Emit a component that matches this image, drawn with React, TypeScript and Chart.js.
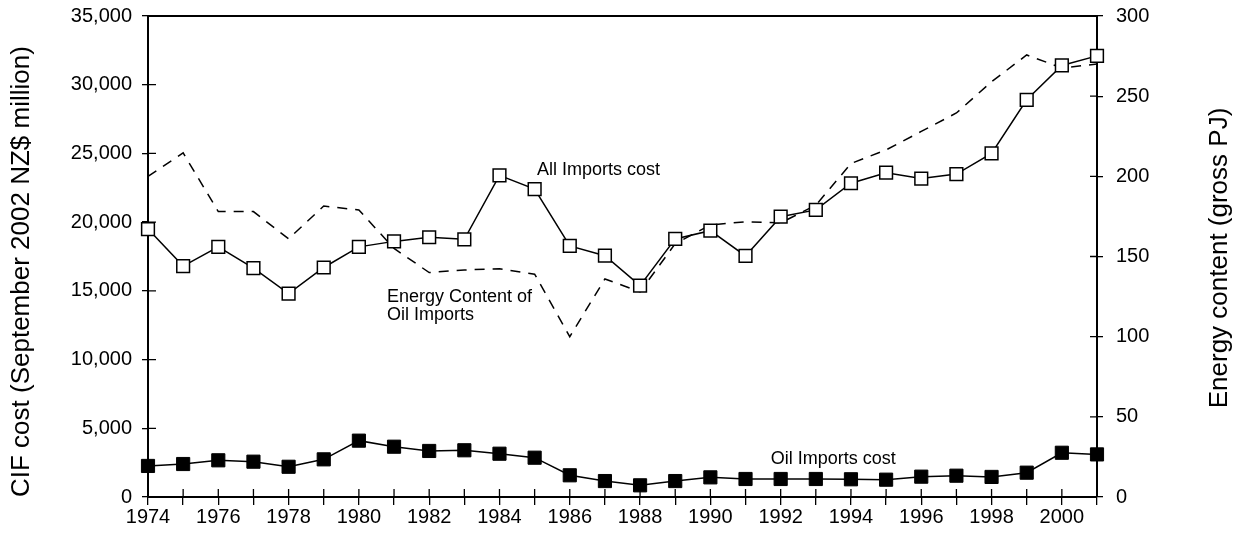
import React, { useEffect, useRef } from "react";
import { Chart, registerables } from "chart.js";

Chart.register(...registerables);

const years = [
  1974, 1975, 1976, 1977, 1978, 1979, 1980, 1981, 1982, 1983, 1984, 1985, 1986, 1987,
  1988, 1989, 1990, 1991, 1992, 1993, 1994, 1995, 1996, 1997, 1998, 1999, 2000, 2001,
];

const allImportsCost = [
  19500, 16800, 18200, 16650, 14800, 16700, 18200, 18600, 18900, 18750, 23400, 22400, 18270, 17560,
  15380, 18780, 19380, 17540, 20400, 20890, 22830, 23600, 23170, 23500, 25000, 28900, 31400, 32100,
];

const oilImportsCost = [
  2260, 2400, 2670, 2570, 2200, 2740, 4100, 3660, 3350, 3400, 3150, 2860, 1580, 1160,
  850, 1160, 1430, 1310, 1310, 1310, 1290, 1260, 1480, 1550, 1460, 1770, 3220, 3100,
];

const energyContent = [
  200, 214.6, 178, 178, 161, 181.5, 179, 155, 140, 141.6, 142.4, 139, 100, 136,
  128, 158, 169.7, 171.7, 171, 182, 208, 216.5, 228, 239.5, 259, 275.7, 267.6, 270,
];

const leftTicks = { min: 0, max: 35000, step: 5000 };
const rightTicks = { min: 0, max: 300, step: 50 };

const leftTitle = "CIF cost (September 2002 NZ$ million)";
const rightTitle = "Energy content (gross PJ)";

const labelAll = { text: ["All Imports cost"], x: 1985.07, y: 23800 };
const labelEnergy = { text: ["Energy Content of", "Oil Imports"], x: 1980.8, y: 14560 };
const labelOil = { text: ["Oil Imports cost"], x: 1991.72, y: 2770 };

const FONT = "'Liberation Sans', Arial, Helvetica, sans-serif";

const framePlugin = {
  id: "frame",
  beforeDatasetsDraw(chart: any) {
    const { ctx, chartArea, scales } = chart;
    ctx.save();
    ctx.strokeStyle = "#000";
    ctx.lineWidth = 2;
    ctx.beginPath();
    ctx.moveTo(chartArea.left - 1, chartArea.top);
    ctx.lineTo(chartArea.right + 1, chartArea.top);
    ctx.stroke();
    ctx.lineWidth = 1.3;
    ctx.beginPath();
    for (const t of scales.x.ticks) {
      const px = scales.x.getPixelForValue(t.value);
      ctx.moveTo(px, chartArea.bottom);
      ctx.lineTo(px, chartArea.bottom - 8);
    }
    for (const t of scales.y.ticks) {
      const py = scales.y.getPixelForValue(t.value);
      ctx.moveTo(chartArea.left, py);
      ctx.lineTo(chartArea.left + 8, py);
    }
    for (const t of scales.y1.ticks) {
      const py = scales.y1.getPixelForValue(t.value);
      ctx.moveTo(chartArea.right, py);
      ctx.lineTo(chartArea.right - 7, py);
    }
    ctx.stroke();
    ctx.restore();
  },
  afterDatasetsDraw(chart: any) {
    const { ctx, scales, chartArea } = chart;
    ctx.save();
    ctx.fillStyle = "#000";
    ctx.font = `18px ${FONT}`;
    ctx.textAlign = "left";
    ctx.textBaseline = "middle";
    for (const lab of [labelAll, labelEnergy, labelOil]) {
      const px = scales.x.getPixelForValue(lab.x);
      const py = scales.y.getPixelForValue(lab.y);
      lab.text.forEach((line, i) => ctx.fillText(line, px, py + i * 18));
    }
    // axis titles
    ctx.font = `26px ${FONT}`;
    ctx.textAlign = "start";
    ctx.save();
    ctx.translate(22, chartArea.bottom);
    ctx.rotate(-Math.PI / 2);
    ctx.fillText(leftTitle, 0, 0);
    ctx.restore();
    ctx.save();
    ctx.translate(1220, 258);
    ctx.rotate(-Math.PI / 2);
    ctx.textAlign = "center";
    ctx.fillText(rightTitle, 0, 0);
    ctx.restore();
    ctx.restore();
  },
};

const noPad = (scale: any) => {
  scale.paddingTop = 0;
  scale.paddingBottom = 0;
  scale.paddingLeft = 0;
  scale.paddingRight = 0;
};

export default function App() {
  const ref = useRef<HTMLCanvasElement | null>(null);

  useEffect(() => {
    document.body.style.margin = "0";
    const canvas = ref.current;
    if (!canvas) return;
    const toXY = (vals: number[]) => vals.map((v, i) => ({ x: years[i], y: v }));
    const chart = new Chart(canvas, {
      type: "line",
      data: {
        datasets: [
          {
            label: "Energy Content of Oil Imports",
            data: toXY(energyContent),
            yAxisID: "y1",
            borderColor: "#000",
            borderWidth: 1.5,
            borderDash: [10, 8],
            pointRadius: 0,
            fill: false,
            tension: 0,
            clip: false as any,
            order: 3,
          },
          {
            label: "All Imports cost",
            data: toXY(allImportsCost),
            yAxisID: "y",
            borderColor: "#000",
            borderWidth: 1.5,
            pointStyle: "rect",
            pointRadius: 9,
            pointBorderWidth: 1.5,
            pointBackgroundColor: "#fff",
            pointBorderColor: "#000",
            fill: false,
            tension: 0,
            clip: false as any,
            order: 2,
          },
          {
            label: "Oil Imports cost",
            data: toXY(oilImportsCost),
            yAxisID: "y",
            borderColor: "#000",
            borderWidth: 1.5,
            pointStyle: "rect",
            pointRadius: 9.3,
            pointBorderWidth: 1,
            pointBackgroundColor: "#000",
            pointBorderColor: "#000",
            fill: false,
            tension: 0,
            clip: false as any,
            order: 1,
          },
        ],
      },
      options: {
        animation: false,
        responsive: false,
        events: [],
        layout: { padding: { top: 16, left: 0, right: 0, bottom: 0 } },
        plugins: { legend: { display: false }, tooltip: { enabled: false }, title: { display: false } },
        scales: {
          x: {
            type: "linear",
            min: years[0],
            max: years[years.length - 1],
            afterFit(scale: any) {
              scale.height = 38;
              noPad(scale);
            },
            ticks: {
              stepSize: 1,
              autoSkip: false,
              maxRotation: 0,
              color: "#000",
              padding: 0,
              font: { family: FONT, size: 20 },
              callback: (v: any) => (Number(v) % 2 === 0 ? String(v) : ""),
            },
            grid: { drawOnChartArea: false, color: "#000", tickLength: 8, lineWidth: 1.3 },
            border: { display: true, color: "#000", width: 2 },
          },
          y: {
            type: "linear",
            position: "left",
            min: leftTicks.min,
            max: leftTicks.max,
            afterFit(scale: any) {
              scale.width = 148;
              noPad(scale);
            },
            ticks: {
              stepSize: leftTicks.step,
              color: "#000",
              padding: 10,
              font: { family: FONT, size: 20 },
              callback: (v: any) => Number(v).toLocaleString("en-US"),
            },
            grid: { drawOnChartArea: false, color: "#000", tickLength: 6, lineWidth: 1.3 },
            border: { display: true, color: "#000", width: 2 },
          },
          y1: {
            type: "linear",
            position: "right",
            min: rightTicks.min,
            max: rightTicks.max,
            afterFit(scale: any) {
              scale.width = 139;
              noPad(scale);
            },
            ticks: {
              stepSize: rightTicks.step,
              color: "#000",
              padding: 13,
              font: { family: FONT, size: 20 },
            },
            grid: { drawOnChartArea: false, color: "#000", tickLength: 6, lineWidth: 1.3 },
            border: { display: true, color: "#000", width: 2 },
          },
        },
      },
      plugins: [framePlugin],
    });
    return () => chart.destroy();
  }, []);

  return (
    <div style={{ width: 1236, height: 535, background: "#fff" }}>
      <canvas ref={ref} width={1236} height={535} style={{ display: "block" }} />
    </div>
  );
}
